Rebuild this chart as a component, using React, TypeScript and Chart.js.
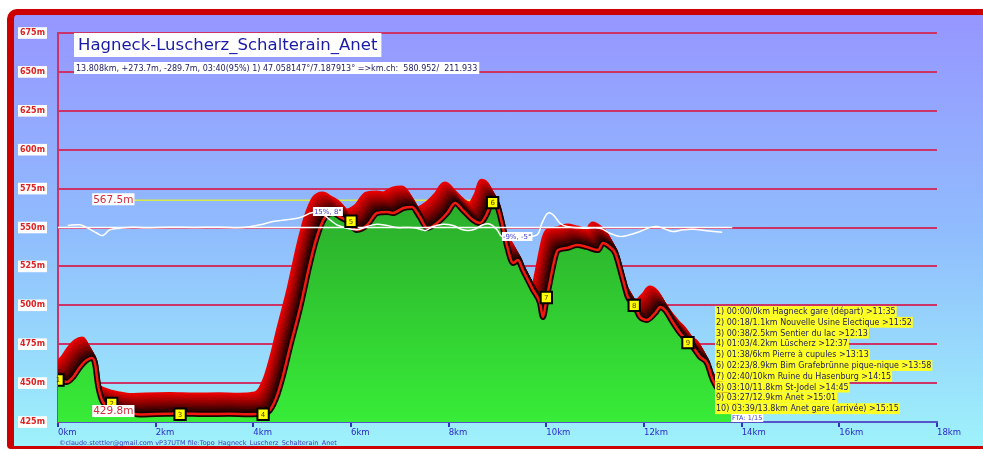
import React, { useEffect, useRef } from 'react';
import { Chart, registerables } from 'chart.js';
Chart.register(...registerables);

const TITLE = 'Hagneck-Luscherz_Schalterain_Anet';
const SUBTITLE = '13.808km, +273.7m, -289.7m, 03:40(95%) 1) 47.058147°/7.187913° =>km.ch:  580.952/  211.933';
const TOTAL_KM = 13.808;

const profileKm = [0, 0.18, 0.31, 0.45, 0.59, 0.70, 0.76, 0.82, 0.90, 1.00, 1.11, 1.27, 1.47, 1.68, 2.0, 2.5, 3.0, 3.5, 3.9, 4.2, 4.34, 4.49, 4.61, 4.75, 4.96, 5.16, 5.30, 5.47, 5.63, 5.78, 5.92, 6.12, 6.33, 6.53, 6.74, 6.86, 7.07, 7.25, 7.41, 7.56, 7.76, 7.97, 8.13, 8.29, 8.50, 8.64, 8.79, 8.89, 8.99, 9.09, 9.20, 9.32, 9.42, 9.52, 9.73, 9.87, 9.93, 10.0, 10.08, 10.18, 10.24, 10.42, 10.63, 10.83, 11.06, 11.16, 11.30, 11.41, 11.57, 11.67, 11.80, 11.92, 12.06, 12.23, 12.33, 12.43, 12.60, 12.74, 12.90, 13.00, 13.15, 13.29, 13.41, 13.56, 13.808];
const profileM = [452.0, 450.7, 453.9, 460.3, 464.8, 466.1, 462.3, 448.8, 439.1, 435.3, 434.0, 432.1, 430.8, 429.8, 430.2, 430.4, 430.1, 430.3, 430.0, 430.6, 432.7, 442.4, 455.2, 473.2, 498.9, 527.2, 543.9, 556.7, 559.3, 556.7, 554.2, 548.4, 551.6, 559.3, 560.0, 559.3, 562.5, 563.2, 556.7, 549.7, 552.9, 559.3, 565.7, 561.2, 554.8, 552.9, 559.3, 567.5, 564.5, 552.9, 537.5, 527.2, 529.1, 522.7, 509.8, 501.5, 492.5, 503.4, 516.3, 531.0, 535.5, 536.8, 538.8, 537.5, 535.5, 540.0, 537.5, 533.6, 516.3, 505.3, 500.2, 492.5, 490.6, 495.1, 498.9, 497.0, 488.6, 482.2, 476.4, 473.2, 466.8, 462.9, 452.0, 444.3, 437.0];

const slopeKm = [0.20, 0.45, 0.61, 0.80, 0.92, 1.06, 1.27, 1.54, 1.80, 2.30, 2.80, 3.30, 3.80, 4.14, 4.40, 4.69, 4.96, 5.22, 5.43, 5.57, 5.71, 5.92, 6.12, 6.33, 6.53, 6.74, 6.94, 7.15, 7.35, 7.52, 7.68, 7.88, 8.09, 8.29, 8.50, 8.70, 8.85, 8.99, 9.09, 9.30, 9.55, 9.81, 9.91, 10.03, 10.14, 10.28, 10.42, 10.75, 11.10, 11.30, 11.51, 11.71, 11.92, 12.12, 12.27, 12.47, 12.59, 12.80, 13.00, 13.29, 13.60];
const slopePct = [2, 2.7, -0.7, -5.7, -8, -2.3, -0.7, 0.3, -0.3, 0.3, 0, 0.3, 0, 2.7, 6, 7.7, 10, 15, 12.7, 7.7, 2.7, -0.7, -2.3, 1, 3.3, 2, 0, 0, -0.7, -3, 1, 3.3, 2, -2.3, -2.3, 2.7, 3.3, -2.3, -9, -8.5, -8.8, -7.3, 4.3, 14.3, 12.7, 4.3, 1, -0.7, -0.7, -5.7, -9, -7.3, -4, 0, 1, -2.3, -4, -2.3, -1.7, -3.3, -4.7];
const slopeBaseKm = [0, TOTAL_KM];
const slopeBasePct = [0, 0];

const waypointKm = [0, 1.1, 2.5, 4.2, 6.0, 8.9, 10.0, 11.8, 12.9, 13.8];
const waypointM = [452, 437, 430, 430, 554, 566, 505, 500, 476, 437];
const waypointLabels = ['1', '2', '3', '4', '5', '6', '7', '8', '9', '10'];

const legendLines = [
  '1) 00:00/0km Hagneck gare (départ) >11:35',
  '2) 00:18/1.1km Nouvelle Usine Electique >11:52',
  '3) 00:38/2.5km Sentier du lac >12:13',
  '4) 01:03/4.2km Lüscherz >12:37',
  '5) 01:38/6km Pierre à cupules >13:13',
  '6) 02:23/8.9km Bim Grafebrünne pique-nique >13:58',
  '7) 02:40/10km Ruine du Hasenburg >14:15',
  '8) 03:10/11.8km St-Jodel >14:45',
  '9) 03:27/12.9km Anet >15:01',
  '10) 03:39/13.8km Anet gare (arrivée) >15:15',
];

const xTicks = [0, 2, 4, 6, 8, 10, 12, 14, 16, 18];
const yTicks = [425, 450, 475, 500, 525, 550, 575, 600, 625, 650, 675];

const MAX_LABEL = '567.5m';
const MIN_LABEL = '429.8m';
const MAX_SLOPE_LABEL = '15%, 8°';
const MIN_SLOPE_LABEL = '-9%, -5°';
const FTA_LABEL = 'FTA: 1/15';
const CREDITS = '©claude.stettler@gmail.com vP37UTM file:Topo_Hagneck_Luscherz_Schalterain_Anet';

const FONT = 'DejaVu Sans';
const ELEV = 3;
const WP = 0;

function boxText(ctx: CanvasRenderingContext2D, text: string, left: number, mid: number, size: number, color: string, bg: string | null, padX = 2, h?: number) {
  ctx.font = `${size}px "${FONT}"`;
  const w = ctx.measureText(text).width;
  const bh = h ?? size + 3;
  if (bg) {
    ctx.fillStyle = bg;
    ctx.fillRect(left, mid - bh / 2, w + padX * 2, bh);
  }
  ctx.fillStyle = color;
  ctx.textAlign = 'left';
  ctx.textBaseline = 'middle';
  ctx.fillText(text, left + padX, mid + 0.5);
  return w;
}

const decor = {
  id: 'decor',
  beforeDatasetsDraw(chart: any) {
    const { ctx, chartArea: a, scales } = chart;
    const xs = scales.x, ys = scales.y;
    const maxV = Math.max(...profileM);
    const iMax = profileM.indexOf(maxV);
    const yMax = ys.getPixelForValue(maxV);
    ctx.save();
    ctx.strokeStyle = '#d6e84a';
    ctx.lineWidth = 1.5;
    ctx.beginPath();
    ctx.moveTo(xs.getPixelForValue(1.4), yMax);
    ctx.lineTo(xs.getPixelForValue(profileKm[iMax]), yMax);
    ctx.stroke();

    const line = chart.getDatasetMeta(ELEV).dataset;
    ctx.beginPath();
    ctx.rect(a.left, a.top, a.right - a.left, a.bottom - a.top);
    ctx.clip();
    ctx.lineJoin = 'round';
    ctx.lineCap = 'round';
    const K = 12;
    for (let k = K; k >= 1; k--) {
      const t = k / K;
      ctx.save();
      ctx.translate(-k * 0.85, -k * 1.5);
      const r = Math.round(25 + 210 * Math.pow(t, 0.8));
      ctx.strokeStyle = `rgb(${r},0,0)`;
      ctx.lineWidth = 7;
      ctx.beginPath();
      line.path(ctx);
      ctx.stroke();
      ctx.restore();
    }
    ctx.restore();
  },
  beforeDatasetDraw(chart: any, args: any) {
    if (args.index !== ELEV) return;
    const { ctx, chartArea: a } = chart;
    const line = chart.getDatasetMeta(ELEV).dataset;
    ctx.save();
    ctx.beginPath();
    ctx.rect(a.left, a.top, a.right - a.left, a.bottom - a.top);
    ctx.clip();
    ctx.lineJoin = 'round';
    ctx.strokeStyle = '#1a0000';
    ctx.lineWidth = 6;
    ctx.beginPath();
    line.path(ctx);
    ctx.stroke();
    ctx.restore();
  },
  afterDatasetsDraw(chart: any) {
    const { ctx } = chart;
    const meta = chart.getDatasetMeta(WP);
    ctx.save();
    ctx.font = `7px "${FONT}"`;
    ctx.fillStyle = '#5a3a00';
    ctx.textAlign = 'center';
    ctx.textBaseline = 'middle';
    meta.data.forEach((pt: any, i: number) => {
      ctx.fillText(waypointLabels[i], pt.x, pt.y + 0.5);
    });
    ctx.restore();
  },
  afterDraw(chart: any) {
    const { ctx, scales } = chart;
    const xs = scales.x, ys = scales.y, y2 = scales.y2;
    ctx.save();
    // title
    ctx.font = `16.5px "${FONT}"`;
    const tw = ctx.measureText(TITLE).width;
    ctx.fillStyle = '#ffffff';
    ctx.fillRect(74, 33, tw + 8, 24);
    ctx.fillStyle = '#1a1aa8';
    ctx.textBaseline = 'middle';
    ctx.textAlign = 'left';
    ctx.fillText(TITLE, 78, 45.5);
    boxText(ctx, SUBTITLE, 74, 68, 8, '#222266', '#ffffff', 2, 12);

    // max / min labels
    const maxV = Math.max(...profileM);
    const minV = Math.min(...profileM);
    boxText(ctx, MAX_LABEL, xs.getPixelForValue(0.7), ys.getPixelForValue(maxV) - 1, 10.5, '#d42a3a', '#ffffff', 1, 12);
    boxText(ctx, MIN_LABEL, xs.getPixelForValue(0.7), ys.getPixelForValue(minV) - 3.5, 10.5, '#d42a3a', '#ffffff', 1, 12);

    // slope labels
    const smax = Math.max(...slopePct);
    const smin = Math.min(...slopePct);
    const iSmax = slopePct.indexOf(smax);
    const iSmin = slopePct.indexOf(smin);
    boxText(ctx, MAX_SLOPE_LABEL, xs.getPixelForValue(slopeKm[iSmax]), y2.getPixelForValue(smax) - 1, 7, '#3a3ad0', '#ffffff', 1, 9);
    boxText(ctx, MIN_SLOPE_LABEL, xs.getPixelForValue(slopeKm[iSmin]), y2.getPixelForValue(smin), 7, '#3a3ad0', '#ffffff', 1, 9);

    // legend
    legendLines.forEach((line, i) => {
      boxText(ctx, line, 715, 311.5 + i * 10.8, 8, '#202060', '#ffff22', 1, 10.8);
    });
    boxText(ctx, FTA_LABEL, 731, 418, 6.5, '#3a3ad0', '#ffffff', 1, 8);
    boxText(ctx, CREDITS, 59, 443, 6.5, '#3a3ac0', null, 0);
    ctx.restore();
  },
};

export default function App() {
  const ref = useRef<HTMLCanvasElement>(null);
  useEffect(() => {
    const canvas = ref.current!;
    const chart = new Chart(canvas, {
      type: 'line',
      data: {
        datasets: [
          {
            label: 'waypoints',
            data: waypointKm.map((k, i) => ({ x: k, y: waypointM[i] })),
            yAxisID: 'y',
            showLine: false,
            pointStyle: 'rect',
            pointRadius: 8,
            pointHoverRadius: 8,
            pointBackgroundColor: '#ffff00',
            pointBorderColor: '#000000',
            pointBorderWidth: 2,
            order: 0,
          } as any,
          {
            label: 'slope',
            data: slopeKm.map((k, i) => ({ x: k, y: slopePct[i] })),
            yAxisID: 'y2',
            borderColor: '#ffffff',
            borderWidth: 1.5,
            pointRadius: 0,
            tension: 0.4,
            fill: false,
            order: 1,
          },
          {
            label: 'slope base',
            data: slopeBaseKm.map((k, i) => ({ x: k, y: slopeBasePct[i] })),
            yAxisID: 'y2',
            borderColor: '#ffffff',
            borderWidth: 1.5,
            pointRadius: 0,
            fill: false,
            order: 2,
          },
          {
            label: 'elevation',
            data: profileKm.map((k, i) => ({ x: k, y: profileM[i] })),
            yAxisID: 'y',
            borderColor: '#f01a10',
            borderWidth: 2.5,
            pointRadius: 0,
            cubicInterpolationMode: 'monotone',
            fill: 'start',
            backgroundColor: (c: any) => {
              const ch = c.chart;
              const a = ch.chartArea;
              if (!a) return '#33dd33';
              const g = ch.ctx.createLinearGradient(0, ch.scales.y.getPixelForValue(565), 0, a.bottom);
              g.addColorStop(0, '#2bad2b');
              g.addColorStop(1, '#38ec38');
              return g;
            },
            order: 3,
          } as any,
        ],
      },
      options: {
        responsive: false,
        animation: false,
        events: [],
        layout: { padding: { top: 33, right: 46, left: 0, bottom: 0 } },
        plugins: { legend: { display: false }, tooltip: { enabled: false }, title: { display: false } },
        scales: {
          x: {
            type: 'linear',
            min: 0,
            max: 18,
            afterBuildTicks: (s: any) => { s.ticks = xTicks.map((v) => ({ value: v })); },
            afterFit: (s: any) => { s.height = 28; },
            ticks: {
              callback: (v: any) => `${v}km`,
              align: 'start',
              color: '#2a2ac8',
              font: { family: FONT, size: 8.5 },
              padding: 1,
              maxRotation: 0,
              autoSkip: false,
            },
            grid: { drawOnChartArea: false, drawTicks: true, tickLength: 5, color: '#3333bb', lineWidth: 2 },
            border: { color: '#5555c8', width: 2 },
          },
          y: {
            type: 'linear',
            position: 'left',
            min: 425,
            max: 675,
            afterBuildTicks: (s: any) => { s.ticks = yTicks.map((v) => ({ value: v })); },
            afterFit: (s: any) => { s.width = 58; },
            ticks: {
              callback: (v: any) => `${v}m`,
              color: '#dd2222',
              font: { family: FONT, size: 8, weight: 'bold' },
              padding: 13,
              showLabelBackdrop: true,
              backdropColor: '#ffffff',
              backdropPadding: { x: 2, y: 1 },
            } as any,
            grid: {
              color: (c: any) => (c.tick && c.tick.value === 425 ? 'rgba(0,0,0,0)' : '#cc3366'),
              lineWidth: 2,
              drawTicks: false,
            },
            border: { color: '#cc3366', width: 2 },
          },
          y2: {
            type: 'linear',
            display: false,
            min: -194.5,
            max: 194.5,
          },
        },
      },
      plugins: [decor],
    } as any);
    return () => chart.destroy();
  }, []);

  return (
    <div style={{ position: 'absolute', left: 0, top: 0, width: 983, height: 450, overflow: 'hidden', background: '#ffffff' }}>
      <div
        style={{
          position: 'absolute',
          left: 7,
          top: 9,
          width: 1000,
          height: 440,
          boxSizing: 'border-box',
          borderLeft: '7px solid #cc0000',
          borderTop: '6px solid #cc0000',
          borderBottom: '3px solid #cc0000',
          borderTopLeftRadius: 10,
          borderBottomLeftRadius: 4,
          background: 'linear-gradient(180deg, #9696ff 0%, #90bcfd 50%, #9ef2fb 100%)',
        }}
      />
      <canvas ref={ref} width={983} height={450} style={{ position: 'absolute', left: 0, top: 0, width: 983, height: 450 }} />
    </div>
  );
}
